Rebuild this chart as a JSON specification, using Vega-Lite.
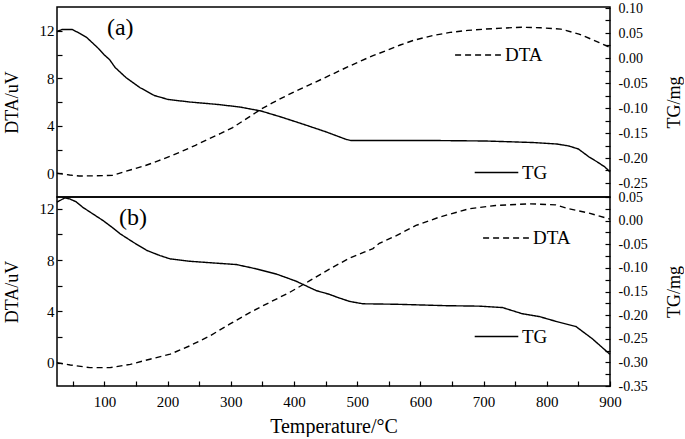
{
  "$schema": "https://vega.github.io/schema/vega-lite/v6.json",
  "autosize": {"type": "pad"},
  "padding": {"left": 2, "top": 0, "right": 0, "bottom": 0},
  "background": "white",
  "config": {
    "font": "Liberation Serif",
    "view": {"stroke": "black", "strokeWidth": 1.5},
    "axis": {
      "labelFont": "Liberation Serif", "titleFont": "Liberation Serif",
      "labelColor": "black", "titleColor": "black", "tickColor": "black",
      "domain": false, "grid": false, "labelFontSize": 15, "titleFontSize": 18,
      "titleFontWeight": "normal", "tickSize": -5, "tickWidth": 1.2,
      "labelOverlap": false, "labelFlush": false
    },
    "legend": {"labelFont": "Liberation Serif", "labelFontSize": 19, "labelColor": "black", "padding": 0}
  },
  "datasets": {
    "curves": [
      {"panel":"a","series":"DTA","T":25,"v":0},{"panel":"a","series":"DTA","T":45,"v":-0.15},{"panel":"a","series":"DTA","T":60,"v":-0.23},{"panel":"a","series":"DTA","T":80,"v":-0.22},{"panel":"a","series":"DTA","T":100,"v":-0.2},{"panel":"a","series":"DTA","T":113,"v":-0.17},{"panel":"a","series":"DTA","T":130,"v":0.1},{"panel":"a","series":"DTA","T":145,"v":0.34},{"panel":"a","series":"DTA","T":165,"v":0.65},{"panel":"a","series":"DTA","T":185,"v":1.04},{"panel":"a","series":"DTA","T":205,"v":1.45},{"panel":"a","series":"DTA","T":224,"v":1.88},{"panel":"a","series":"DTA","T":244,"v":2.35},{"panel":"a","series":"DTA","T":264,"v":2.87},{"panel":"a","series":"DTA","T":284,"v":3.35},{"panel":"a","series":"DTA","T":303,"v":3.85},{"panel":"a","series":"DTA","T":325,"v":4.6},{"panel":"a","series":"DTA","T":348,"v":5.4},{"panel":"a","series":"DTA","T":365,"v":5.9},{"panel":"a","series":"DTA","T":382,"v":6.37},{"panel":"a","series":"DTA","T":400,"v":6.85},{"panel":"a","series":"DTA","T":421,"v":7.36},{"panel":"a","series":"DTA","T":445,"v":7.95},{"panel":"a","series":"DTA","T":466,"v":8.48},{"panel":"a","series":"DTA","T":486,"v":8.98},{"panel":"a","series":"DTA","T":506,"v":9.47},{"panel":"a","series":"DTA","T":525,"v":9.9},{"panel":"a","series":"DTA","T":545,"v":10.31},{"panel":"a","series":"DTA","T":568,"v":10.8},{"panel":"a","series":"DTA","T":590,"v":11.21},{"panel":"a","series":"DTA","T":620,"v":11.6},{"panel":"a","series":"DTA","T":647,"v":11.86},{"panel":"a","series":"DTA","T":675,"v":12.03},{"panel":"a","series":"DTA","T":703,"v":12.14},{"panel":"a","series":"DTA","T":730,"v":12.22},{"panel":"a","series":"DTA","T":760,"v":12.3},{"panel":"a","series":"DTA","T":790,"v":12.25},{"panel":"a","series":"DTA","T":822,"v":12.14},{"panel":"a","series":"DTA","T":851,"v":11.72},{"panel":"a","series":"DTA","T":870,"v":11.3},{"panel":"a","series":"DTA","T":883,"v":11.0},{"panel":"a","series":"DTA","T":900,"v":10.6},
      {"panel":"a","series":"TG","T":25,"v":0.053},{"panel":"a","series":"TG","T":33,"v":0.057},{"panel":"a","series":"TG","T":41,"v":0.057},{"panel":"a","series":"TG","T":49,"v":0.057},{"panel":"a","series":"TG","T":60,"v":0.05},{"panel":"a","series":"TG","T":72,"v":0.041},{"panel":"a","series":"TG","T":89,"v":0.021},{"panel":"a","series":"TG","T":100,"v":0.006},{"panel":"a","series":"TG","T":108,"v":-0.003},{"panel":"a","series":"TG","T":117,"v":-0.019},{"panel":"a","series":"TG","T":134,"v":-0.039},{"panel":"a","series":"TG","T":156,"v":-0.059},{"panel":"a","series":"TG","T":179,"v":-0.075},{"panel":"a","series":"TG","T":201,"v":-0.083},{"panel":"a","series":"TG","T":235,"v":-0.088},{"panel":"a","series":"TG","T":280,"v":-0.093},{"panel":"a","series":"TG","T":314,"v":-0.098},{"panel":"a","series":"TG","T":348,"v":-0.106},{"panel":"a","series":"TG","T":382,"v":-0.119},{"panel":"a","series":"TG","T":416,"v":-0.133},{"panel":"a","series":"TG","T":449,"v":-0.147},{"panel":"a","series":"TG","T":483,"v":-0.163},{"panel":"a","series":"TG","T":490,"v":-0.165},{"panel":"a","series":"TG","T":534,"v":-0.165},{"panel":"a","series":"TG","T":619,"v":-0.165},{"panel":"a","series":"TG","T":703,"v":-0.166},{"panel":"a","series":"TG","T":777,"v":-0.169},{"panel":"a","series":"TG","T":816,"v":-0.172},{"panel":"a","series":"TG","T":835,"v":-0.176},{"panel":"a","series":"TG","T":850,"v":-0.182},{"panel":"a","series":"TG","T":867,"v":-0.198},{"panel":"a","series":"TG","T":880,"v":-0.208},{"panel":"a","series":"TG","T":892,"v":-0.218},{"panel":"a","series":"TG","T":900,"v":-0.228},
      {"panel":"b","series":"DTA","T":25,"v":0},{"panel":"b","series":"DTA","T":46,"v":-0.18},{"panel":"b","series":"DTA","T":77,"v":-0.39},{"panel":"b","series":"DTA","T":109,"v":-0.39},{"panel":"b","series":"DTA","T":141,"v":-0.13},{"panel":"b","series":"DTA","T":172,"v":0.27},{"panel":"b","series":"DTA","T":204,"v":0.66},{"panel":"b","series":"DTA","T":235,"v":1.31},{"panel":"b","series":"DTA","T":267,"v":2.09},{"panel":"b","series":"DTA","T":298,"v":3.0},{"panel":"b","series":"DTA","T":330,"v":3.91},{"panel":"b","series":"DTA","T":361,"v":4.69},{"panel":"b","series":"DTA","T":393,"v":5.48},{"panel":"b","series":"DTA","T":425,"v":6.39},{"panel":"b","series":"DTA","T":456,"v":7.3},{"panel":"b","series":"DTA","T":488,"v":8.15},{"panel":"b","series":"DTA","T":510,"v":8.6},{"panel":"b","series":"DTA","T":525,"v":8.9},{"panel":"b","series":"DTA","T":535,"v":9.31},{"panel":"b","series":"DTA","T":562,"v":9.91},{"panel":"b","series":"DTA","T":593,"v":10.7},{"panel":"b","series":"DTA","T":630,"v":11.35},{"panel":"b","series":"DTA","T":677,"v":12.0},{"panel":"b","series":"DTA","T":719,"v":12.26},{"panel":"b","series":"DTA","T":772,"v":12.39},{"panel":"b","series":"DTA","T":814,"v":12.31},{"panel":"b","series":"DTA","T":835,"v":12.0},{"panel":"b","series":"DTA","T":867,"v":11.66},{"panel":"b","series":"DTA","T":900,"v":11.2},
      {"panel":"b","series":"TG","T":25,"v":0.039},{"panel":"b","series":"TG","T":37,"v":0.048},{"panel":"b","series":"TG","T":45,"v":0.046},{"panel":"b","series":"TG","T":55,"v":0.04},{"panel":"b","series":"TG","T":66,"v":0.028},{"panel":"b","series":"TG","T":82,"v":0.014},{"panel":"b","series":"TG","T":98,"v":0.0},{"panel":"b","series":"TG","T":112,"v":-0.014},{"panel":"b","series":"TG","T":125,"v":-0.028},{"panel":"b","series":"TG","T":146,"v":-0.046},{"panel":"b","series":"TG","T":167,"v":-0.063},{"panel":"b","series":"TG","T":188,"v":-0.074},{"panel":"b","series":"TG","T":204,"v":-0.081},{"panel":"b","series":"TG","T":235,"v":-0.086},{"panel":"b","series":"TG","T":277,"v":-0.09},{"panel":"b","series":"TG","T":309,"v":-0.093},{"panel":"b","series":"TG","T":340,"v":-0.102},{"panel":"b","series":"TG","T":372,"v":-0.113},{"panel":"b","series":"TG","T":403,"v":-0.128},{"panel":"b","series":"TG","T":435,"v":-0.148},{"panel":"b","series":"TG","T":456,"v":-0.156},{"panel":"b","series":"TG","T":470,"v":-0.163},{"panel":"b","series":"TG","T":488,"v":-0.171},{"panel":"b","series":"TG","T":509,"v":-0.176},{"panel":"b","series":"TG","T":562,"v":-0.177},{"panel":"b","series":"TG","T":640,"v":-0.18},{"panel":"b","series":"TG","T":693,"v":-0.181},{"panel":"b","series":"TG","T":730,"v":-0.184},{"panel":"b","series":"TG","T":761,"v":-0.197},{"panel":"b","series":"TG","T":788,"v":-0.203},{"panel":"b","series":"TG","T":814,"v":-0.213},{"panel":"b","series":"TG","T":846,"v":-0.224},{"panel":"b","series":"TG","T":872,"v":-0.25},{"panel":"b","series":"TG","T":900,"v":-0.283}
    ]
  },
  "vconcat": [
    {
      "width": 553, "height": 190,
      "layer": [
        {
          "data": {"name": "curves"},
          "transform": [{"filter": "datum.panel === 'a' && datum.series === 'DTA'"}],
          "mark": {"type": "line", "color": "black", "strokeWidth": 1.4},
          "encoding": {
            "x": {"field": "T", "type": "quantitative", "scale": {"domain": [25, 900], "nice": false, "zero": false}, "axis": null},
            "y": {"field": "v", "type": "quantitative", "scale": {"domain": [-2, 14], "nice": false, "zero": false},
                  "axis": {"orient": "left", "title": "DTA/uV", "values": [0,2,4,6,8,10,12], "labelExpr": "datum.value % 4 === 0 ? datum.label : ''", "labelPadding": 8, "titlePadding": 18}},
            "strokeDash": {"field": "series", "type": "nominal", "scale": {"domain": ["DTA"], "range": [[6,4]]},
                  "legend": {"title": null, "orient": "none", "legendX": 397, "legendY": 24, "symbolType": "stroke", "symbolSize": 2100, "symbolStrokeWidth": 1.4, "symbolStrokeColor": "black", "labelOffset": 3}}
          }
        },
        {
          "data": {"name": "curves"},
          "transform": [{"filter": "datum.panel === 'a' && datum.series === 'TG'"}],
          "mark": {"type": "line", "color": "black", "strokeWidth": 1.4},
          "encoding": {
            "x": {"field": "T", "type": "quantitative", "scale": {"domain": [25, 900], "nice": false, "zero": false}, "axis": null},
            "y": {"field": "v", "type": "quantitative", "scale": {"domain": [-0.278, 0.102], "nice": false, "zero": false},
                  "axis": {"orient": "right", "title": "TG/mg", "titleAngle": 270, "labelFontSize": 14, "values": [-0.25,-0.225,-0.2,-0.175,-0.15,-0.125,-0.1,-0.075,-0.05,-0.025,0,0.025,0.05,0.075,0.1],
                           "labelExpr": "abs(round(datum.value*1000)) % 50 === 0 ? (datum.value < -0.0001 ? '-' : '') + format(abs(datum.value), '.2f') : ''", "labelPadding": 13, "titlePadding": 36}},
            "strokeDash": {"field": "series", "type": "nominal", "scale": {"domain": ["TG"], "range": [[1,0]]},
                  "legend": {"title": null, "orient": "none", "legendX": 417, "legendY": 143, "symbolType": "stroke", "symbolSize": 1900, "symbolStrokeWidth": 1.4, "symbolStrokeColor": "black", "labelOffset": 3}}
          }
        },
        {
          "data": {"values": [{"tag": "(a)"}]},
          "mark": {"type": "text", "align": "left", "baseline": "middle", "fontSize": 24, "font": "Liberation Serif", "color": "black"},
          "encoding": {
            "x": {"datum": 104, "type": "quantitative", "scale": {"domain": [25, 900], "nice": false, "zero": false}, "axis": null},
            "y": {"datum": 12.25, "type": "quantitative", "scale": {"domain": [-2, 14], "nice": false, "zero": false}, "axis": null},
            "text": {"field": "tag"}
          }
        }
      ],
      "resolve": {"scale": {"y": "independent", "strokeDash": "independent"}, "axis": {"y": "independent"}, "legend": {"strokeDash": "independent"}}
    },
    {
      "width": 553, "height": 189,
      "layer": [
        {
          "data": {"name": "curves"},
          "transform": [{"filter": "datum.panel === 'b' && datum.series === 'DTA'"}],
          "mark": {"type": "line", "color": "black", "strokeWidth": 1.4},
          "encoding": {
            "x": {"field": "T", "type": "quantitative", "scale": {"domain": [25, 900], "nice": false, "zero": false},
                  "axis": {"title": "Temperature/°C", "titleFontSize": 20, "values": [50,100,150,200,250,300,350,400,450,500,550,600,650,700,750,800,850,900], "labelExpr": "datum.value % 100 === 0 ? datum.label : ''", "labelPadding": 13, "titlePadding": 7}},
            "y": {"field": "v", "type": "quantitative", "scale": {"domain": [-1.82, 12.92], "nice": false, "zero": false},
                  "axis": {"orient": "left", "title": "DTA/uV", "values": [0,2,4,6,8,10,12], "labelExpr": "datum.value % 4 === 0 ? datum.label : ''", "labelPadding": 8, "titlePadding": 18}},
            "strokeDash": {"field": "series", "type": "nominal", "scale": {"domain": ["DTA"], "range": [[6,4]]},
                  "legend": {"title": null, "orient": "none", "legendX": 425, "legendY": 17, "symbolType": "stroke", "symbolSize": 2100, "symbolStrokeWidth": 1.4, "symbolStrokeColor": "black", "labelOffset": 3}}
          }
        },
        {
          "data": {"name": "curves"},
          "transform": [{"filter": "datum.panel === 'b' && datum.series === 'TG'"}],
          "mark": {"type": "line", "color": "black", "strokeWidth": 1.4},
          "encoding": {
            "x": {"field": "T", "type": "quantitative", "scale": {"domain": [25, 900], "nice": false, "zero": false},
                  "axis": {"title": "Temperature/°C", "titleFontSize": 20, "values": [50,100,150,200,250,300,350,400,450,500,550,600,650,700,750,800,850,900], "labelExpr": "datum.value % 100 === 0 ? datum.label : ''", "labelPadding": 13, "titlePadding": 7}},
            "y": {"field": "v", "type": "quantitative", "scale": {"domain": [-0.35, 0.05], "nice": false, "zero": false},
                  "axis": {"orient": "right", "title": "TG/mg", "titleAngle": 270, "labelFontSize": 14, "values": [-0.35,-0.325,-0.3,-0.275,-0.25,-0.225,-0.2,-0.175,-0.15,-0.125,-0.1,-0.075,-0.05,-0.025,0,0.025,0.05],
                           "labelExpr": "abs(round(datum.value*1000)) % 50 === 0 ? (datum.value < -0.0001 ? '-' : '') + format(abs(datum.value), '.2f') : ''", "labelPadding": 13, "titlePadding": 36}},
            "strokeDash": {"field": "series", "type": "nominal", "scale": {"domain": ["TG"], "range": [[1,0]]},
                  "legend": {"title": null, "orient": "none", "legendX": 417, "legendY": 117, "symbolType": "stroke", "symbolSize": 1900, "symbolStrokeWidth": 1.4, "symbolStrokeColor": "black", "labelOffset": 3}}
          }
        },
        {
          "data": {"values": [{"tag": "(b)"}]},
          "mark": {"type": "text", "align": "left", "baseline": "middle", "fontSize": 24, "font": "Liberation Serif", "color": "black"},
          "encoding": {
            "x": {"datum": 123, "type": "quantitative", "scale": {"domain": [25, 900], "nice": false, "zero": false},
                  "axis": {"title": "Temperature/°C", "titleFontSize": 20, "values": [50,100,150,200,250,300,350,400,450,500,550,600,650,700,750,800,850,900], "labelExpr": "datum.value % 100 === 0 ? datum.label : ''", "labelPadding": 13, "titlePadding": 7}},
            "y": {"datum": 11.3, "type": "quantitative", "scale": {"domain": [-1.82, 12.92], "nice": false, "zero": false}, "axis": null},
            "text": {"field": "tag"}
          }
        }
      ],
      "resolve": {"scale": {"y": "independent", "strokeDash": "independent"}, "axis": {"y": "independent"}, "legend": {"strokeDash": "independent"}}
    }
  ],
  "spacing": 0,
  "bounds": "flush",
  "resolve": {"scale": {"x": "independent", "strokeDash": "independent"}, "axis": {"x": "independent"}, "legend": {"strokeDash": "independent"}}
}
